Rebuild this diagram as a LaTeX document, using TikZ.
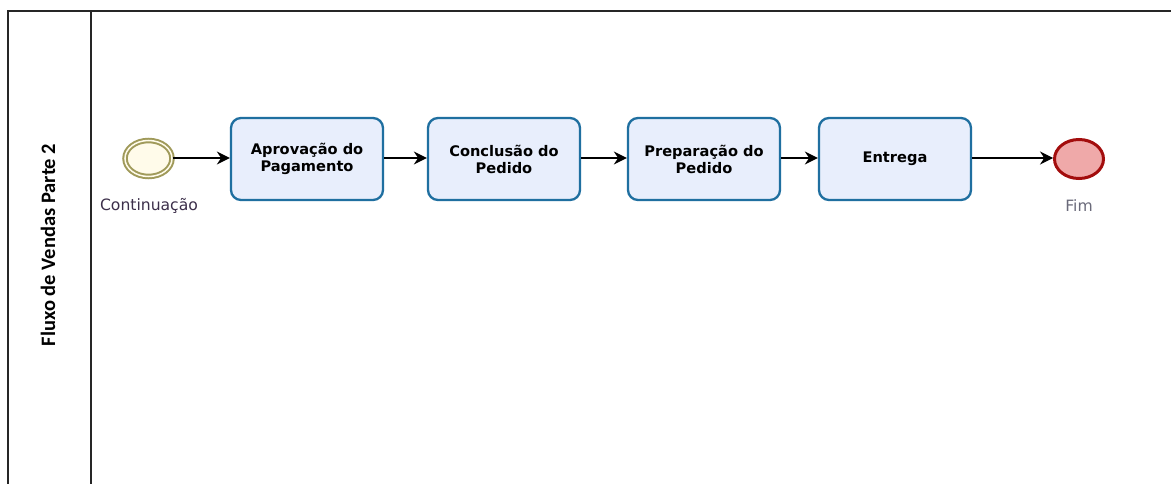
\documentclass[tikz,border=0pt]{standalone}
\usepackage{fontspec}
\setmainfont{DejaVu Sans}
\newfontfamily\titlefont{Carlito}
\usetikzlibrary{arrows.meta,shapes.geometric}
\definecolor{taskfill}{HTML}{E8EEFC}
\definecolor{taskdraw}{HTML}{1F6FA0}
\definecolor{startdraw}{HTML}{A09A5A}
\definecolor{startfill}{HTML}{FFFBEA}
\definecolor{enddraw}{HTML}{A30D0D}
\definecolor{endfill}{HTML}{EFA9A9}
\definecolor{lbl}{HTML}{3C2F4A}
\definecolor{finlbl}{HTML}{6A6A7A}
\tikzset{
  task/.style={draw=taskdraw, fill=taskfill, line width=2.3pt, rounded corners=10pt,
    minimum width=152pt, minimum height=82pt, inner sep=0pt, align=center,
    font=\fontsize{14.6}{17}\selectfont\bfseries},
  flow/.style={draw=black, line width=1.3pt, -{Stealth[length=13pt,width=13pt]}},
  frame/.style={draw=black!85, line width=1.4pt},
  evlabel/.style={font=\fontsize{15.6}{16}\selectfont}
}
\begin{document}
\begin{tikzpicture}[x=1pt,y=-1pt]
\useasboundingbox (0,0) rectangle (1171,484);
\fill[white] (0,0) rectangle (1171,484);
% pool frame
\draw[frame] (1171,11) -- (8,11) -- (8,484);
\draw[frame] (91,11) -- (91,484);
\node[rotate=90, font=\titlefont\fontsize{20.5}{21}\selectfont\bfseries] (lane) at (48,245) {Fluxo de Vendas Parte 2};
% events
\node[ellipse, draw=startdraw, fill=startfill, line width=2pt, double=startfill, double distance=1.5pt,
      minimum width=47pt, minimum height=36pt, inner sep=0pt] (start) at (148.5,158.5) {};
\node[evlabel, text=lbl] (startlbl) at (149,206) {Continuação};
\node[ellipse, draw=enddraw, fill=endfill, line width=3pt,
      minimum width=49pt, minimum height=39pt, inner sep=0pt] (end) at (1079,159) {};
\node[evlabel, text=finlbl] (endlbl) at (1079,206) {Fim};
% tasks
\node[task] (t1) at (307,159) {Aprovação do\\Pagamento};
\node[task] (t2) at (504,159) {Conclusão do\\Pedido};
\node[task] (t3) at (704,159) {Preparação do\\Pedido};
\node[task] (t4) at (895,159) {Entrega};
% flows
\draw[flow] (start.east |- 0,158) -- (t1.west |- 0,158);
\draw[flow] (t1.east |- 0,158) -- (t2.west |- 0,158);
\draw[flow] (t2.east |- 0,158) -- (t3.west |- 0,158);
\draw[flow] (t3.east |- 0,158) -- (t4.west |- 0,158);
\draw[flow] (t4.east |- 0,158) -- (end.west |- 0,158);
\end{tikzpicture}
\end{document}
